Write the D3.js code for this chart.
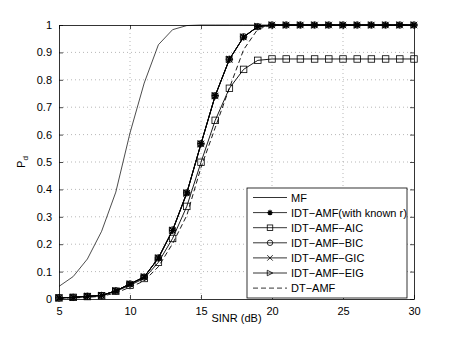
<!DOCTYPE html>
<html>
<head>
<meta charset="utf-8">
<script src="https://cdn.jsdelivr.net/npm/d3@7"></script>
<style>
  body { margin: 0; background: #fff; }
  svg { font-family: "Liberation Sans", Arial, sans-serif; }
</style>
</head>
<body>
<script>
// SINR grid (dB) shared by every curve
var sinr = [5,6,7,8,9,10,11,12,13,14,15,16,17,18,19,20,21,22,23,24,25,26,27,28,29,30];

var pdMF    = [0.046,0.082,0.146,0.247,0.39,0.606,0.788,0.928,0.983,0.998,1,1,1,1,1,1,1,1,1,1,1,1,1,1,1,1];
var pdKnown = [0.004,0.006,0.01,0.013,0.03,0.055,0.08,0.15,0.25,0.387,0.567,0.742,0.875,0.956,0.994,1,1,1,1,1,1,1,1,1,1,1];
var pdBIC   = [0.004,0.006,0.01,0.013,0.03,0.055,0.08,0.15,0.252,0.388,0.567,0.742,0.875,0.957,0.994,1,1,1,1,1,1,1,1,1,1,1];
var pdGIC   = [0.004,0.006,0.01,0.013,0.03,0.054,0.08,0.149,0.25,0.386,0.566,0.741,0.874,0.956,0.994,1,1,1,1,1,1,1,1,1,1,1];
var pdEIG   = [0.004,0.006,0.01,0.013,0.03,0.055,0.081,0.15,0.251,0.387,0.566,0.742,0.875,0.956,0.995,1,1,1,1,1,1,1,1,1,1,1];
var pdAIC   = [0.004,0.006,0.009,0.012,0.028,0.05,0.075,0.134,0.221,0.338,0.499,0.652,0.769,0.838,0.871,0.876,0.876,0.876,0.876,0.876,0.876,0.876,0.876,0.876,0.876,0.876];
var pdDT    = [0.003,0.004,0.006,0.01,0.022,0.043,0.066,0.118,0.202,0.305,0.48,0.625,0.77,0.91,0.985,1,1,1,1,1,1,1,1,1,1,1];

var xTicks = [5,10,15,20,25,30];
var yTicks = [0,0.1,0.2,0.3,0.4,0.5,0.6,0.7,0.8,0.9,1];

var names = ["MF","IDT\u2212AMF(with known r)","IDT\u2212AMF\u2212AIC","IDT\u2212AMF\u2212BIC","IDT\u2212AMF\u2212GIC","IDT\u2212AMF\u2212EIG","DT\u2212AMF"];
var markers = ["none","star","square","circle","cross","triangle","none"];
var dashes = ["none","none","none","none","none","none","5,3"];
var curves = [pdMF, pdKnown, pdAIC, pdBIC, pdGIC, pdEIG, pdDT];

var W = 457, H = 337;
var m = {left: 59, top: 25, right: 43, bottom: 38};
var iw = W - m.left - m.right, ih = H - m.top - m.bottom;

var svg = d3.select("body").append("svg").attr("width", W).attr("height", H);
var g = svg.append("g").attr("transform", "translate(" + m.left + "," + m.top + ")");

var x = d3.scaleLinear().domain([5,30]).range([0, iw]);
var y = d3.scaleLinear().domain([0,1]).range([ih, 0]);

// dotted grid
g.append("g").selectAll("line").data(xTicks.slice(1, -1)).join("line")
  .attr("x1", function(d){ return x(d); }).attr("x2", function(d){ return x(d); })
  .attr("y1", 0).attr("y2", ih)
  .attr("stroke", "#999").attr("stroke-width", 0.7).attr("stroke-dasharray", "1,3");
g.append("g").selectAll("line").data(yTicks.slice(1, -1)).join("line")
  .attr("y1", function(d){ return y(d); }).attr("y2", function(d){ return y(d); })
  .attr("x1", 0).attr("x2", iw)
  .attr("stroke", "#999").attr("stroke-width", 0.7).attr("stroke-dasharray", "1,3");

// axes, ticks pointing inward, box on
var tl = 4;
var ax = g.append("g").attr("transform", "translate(0," + ih + ")")
  .call(d3.axisBottom(x).tickValues(xTicks).tickSizeInner(-tl).tickSizeOuter(0).tickPadding(8));
var axT = g.append("g").call(d3.axisTop(x).tickValues(xTicks).tickSizeInner(-tl).tickSizeOuter(0).tickFormat(""));
var ay = g.append("g").call(d3.axisLeft(y).tickValues(yTicks).tickSizeInner(-tl).tickSizeOuter(0).tickPadding(7).tickFormat(d3.format("")));
var ayR = g.append("g").attr("transform", "translate(" + iw + ",0)")
  .call(d3.axisRight(y).tickValues(yTicks).tickSizeInner(-tl).tickSizeOuter(0).tickFormat(""));
[ax, axT, ay, ayR].forEach(function(a) {
  a.select(".domain").attr("stroke", "#000").attr("stroke-width", 0.8);
  a.selectAll(".tick line").attr("stroke", "#000").attr("stroke-width", 0.7);
  a.selectAll("text").attr("font-size", 11).attr("fill", "#000").attr("font-family", "Liberation Sans, Arial, sans-serif");
});

// marker drawing
function drawMarker(sel, type, s) {
  var h = s / 2;
  if (type === "square") {
    sel.append("rect").attr("x", -h).attr("y", -h).attr("width", s).attr("height", s)
      .attr("fill", "none").attr("stroke", "#000").attr("stroke-width", 0.8);
  } else if (type === "circle") {
    sel.append("circle").attr("r", h).attr("fill", "none").attr("stroke", "#000").attr("stroke-width", 0.8);
  } else if (type === "cross") {
    sel.append("path").attr("d", "M" + (-h) + "," + (-h) + "L" + h + "," + h + "M" + (-h) + "," + h + "L" + h + "," + (-h))
      .attr("stroke", "#000").attr("stroke-width", 0.8);
  } else if (type === "triangle") {
    sel.append("path").attr("d", "M" + (-h) + "," + (-h) + "L" + h + ",0L" + (-h) + "," + h + "Z")
      .attr("fill", "none").attr("stroke", "#000").attr("stroke-width", 0.8);
  } else if (type === "star") {
    var d = "";
    for (var k = 0; k < 4; k++) {
      var a = k * Math.PI / 4;
      d += "M" + (-h * Math.cos(a)) + "," + (-h * Math.sin(a)) + "L" + (h * Math.cos(a)) + "," + (h * Math.sin(a));
    }
    sel.append("path").attr("d", d).attr("stroke", "#000").attr("stroke-width", 1.2);
  }
}

var line = d3.line().x(function(d){ return x(d[0]); }).y(function(d){ return y(d[1]); });

curves.forEach(function(c, i) {
  var pts = sinr.map(function(s, j){ return [s, c[j]]; });
  g.append("path").datum(pts).attr("d", line)
    .attr("fill", "none").attr("stroke", "#000").attr("stroke-width", i === 0 ? 0.7 : 0.9)
    .attr("stroke-dasharray", dashes[i] === "none" ? null : dashes[i]);
  if (markers[i] !== "none") {
    g.append("g").selectAll("g").data(pts).join("g")
      .attr("transform", function(d){ return "translate(" + x(d[0]) + "," + y(d[1]) + ")"; })
      .each(function(){ drawMarker(d3.select(this), markers[i], 6.5); });
  }
});

// labels
svg.append("text").attr("x", m.left + iw / 2).attr("y", 322).attr("text-anchor", "middle")
  .attr("font-size", 11).text("SINR (dB)");
var yl = svg.append("text").attr("transform", "translate(25," + (m.top + ih / 2) + ") rotate(-90)")
  .attr("text-anchor", "middle").attr("font-size", 11);
yl.append("tspan").text("P");
yl.append("tspan").attr("font-size", 8).attr("dy", 3).text("d");

// legend
var lg = svg.append("g").attr("transform", "translate(247,188)");
lg.append("rect").attr("width", 160).attr("height", 110)
  .attr("fill", "#fff").attr("stroke", "#000").attr("stroke-width", 0.8);
names.forEach(function(n, i) {
  var yy = 9.5 + i * 15.1;
  var row = lg.append("g").attr("transform", "translate(0," + yy + ")");
  row.append("line").attr("x1", 6).attr("x2", 40).attr("y1", 0).attr("y2", 0)
    .attr("stroke", "#000").attr("stroke-width", 0.8)
    .attr("stroke-dasharray", dashes[i] === "none" ? null : dashes[i]);
  if (markers[i] !== "none") {
    drawMarker(row.append("g").attr("transform", "translate(23,0)"), markers[i], 5.5);
  }
  row.append("text").attr("x", 44).attr("y", 4).attr("font-size", 11).text(n);
});
</script>
</body>
</html>
